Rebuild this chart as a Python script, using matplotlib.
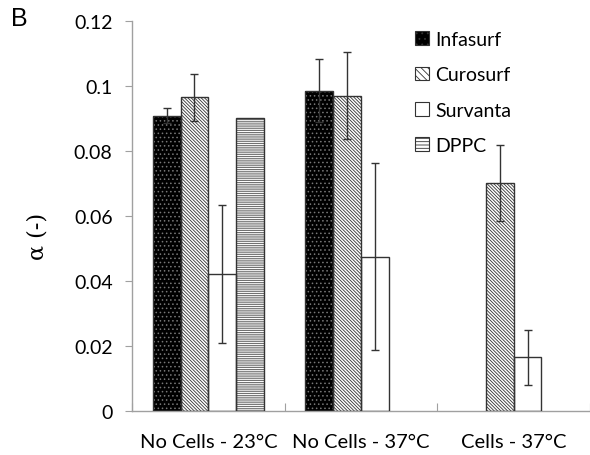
import numpy as np
import matplotlib
matplotlib.use("Agg")
import matplotlib.pyplot as plt

plt.rcParams['font.family'] = ['Lato', 'DejaVu Sans']
plt.rcParams['hatch.linewidth'] = 0.6

# data
categories = ['No Cells - 23°C', 'No Cells - 37°C', 'Cells - 37°C']
series = ['Infasurf', 'Curosurf', 'Survanta', 'DPPC']
infasurf = [0.0909, 0.0986, np.nan]
infasurf_err = [0.0022, 0.0097, np.nan]
curosurf = [0.0965, 0.0970, 0.0701]
curosurf_err = [0.0073, 0.0134, 0.0117]
survanta = [0.0422, 0.0475, 0.0165]
survanta_err = [0.0213, 0.0288, 0.0085]
dppc = [0.0901, np.nan, np.nan]
dppc_err = [np.nan, np.nan, np.nan]

values = [infasurf, curosurf, survanta, dppc]
errors = [infasurf_err, curosurf_err, survanta_err, dppc_err]
faces = ['black', 'white', 'white', 'white']
hatches = ['....', '\\' * 10, None, '-' * 9]
hatch_cols = ['#777777', '#333333', '#333333', '#555555']
leg_hatches = ['...', '\\' * 5, None, '-' * 5]

fig = plt.figure(figsize=(5.9, 4.56), dpi=100)
ax = fig.add_axes([0.2237, 0.0965, 0.7763, 0.8553])

bw = 1 / 5.5
x = np.arange(len(categories))
for i, name in enumerate(series):
    pos = x + 0.75 * bw + (i + 0.5) * bw
    v = np.array(values[i], dtype=float)
    # fill + hatch
    ax.bar(pos, v, width=bw, color=faces[i], hatch=hatches[i],
           edgecolor=hatch_cols[i], linewidth=0, zorder=2)
    # outline
    ax.bar(pos, v, width=bw, fill=False, edgecolor='#333333',
           linewidth=1.0, zorder=3)
    ax.errorbar(pos, v, yerr=np.array(errors[i], dtype=float), fmt='none',
                ecolor='#333333', elinewidth=1.0, capsize=2.6, capthick=1.0,
                zorder=4)

ax.set_xlim(0, 3)
ax.set_ylim(0, 0.12)
ax.set_yticks([0, 0.02, 0.04, 0.06, 0.08, 0.1, 0.12])
ax.set_yticklabels(['0', '0.02', '0.04', '0.06', '0.08', '0.1', '0.12'])
ax.set_xticks([0, 1, 2, 3])
ax.set_xticklabels([])
ax.set_xticks(x + 0.5, minor=True)
ax.set_xticklabels(categories, minor=True, fontsize=14.5)
ax.tick_params(axis='x', which='minor', length=0, pad=16)
ax.tick_params(axis='x', which='major', length=6, direction='in',
               color='#a0a0a0')
ax.tick_params(axis='y', length=5, direction='out', color='#a0a0a0',
               labelsize=14, pad=9)
for s in ['top', 'right']:
    ax.spines[s].set_visible(False)
for s in ['left', 'bottom']:
    ax.spines[s].set_color('#a0a0a0')
    ax.spines[s].set_linewidth(1.0)

fig.text(0.063, 0.482, 'α (-)', rotation=90, ha='center', va='center',
         fontsize=16, family=['DejaVu Serif'])
fig.text(0.018, 0.985, 'B', ha='left', va='top', fontsize=18,
         family=['Liberation Sans'])

# legend
handles = [plt.Rectangle((0, 0), 1, 1, facecolor=faces[i],
                         hatch=leg_hatches[i], edgecolor='#333333',
                         linewidth=0.8)
           for i in range(len(series))]
leg = ax.legend(handles, series, loc='upper left',
                bbox_to_anchor=(0.58, 1.02), frameon=False, fontsize=14,
                handlelength=0.7, handleheight=0.7, handletextpad=0.35,
                labelspacing=0.95)

fig.savefig('out.png', dpi=100)
